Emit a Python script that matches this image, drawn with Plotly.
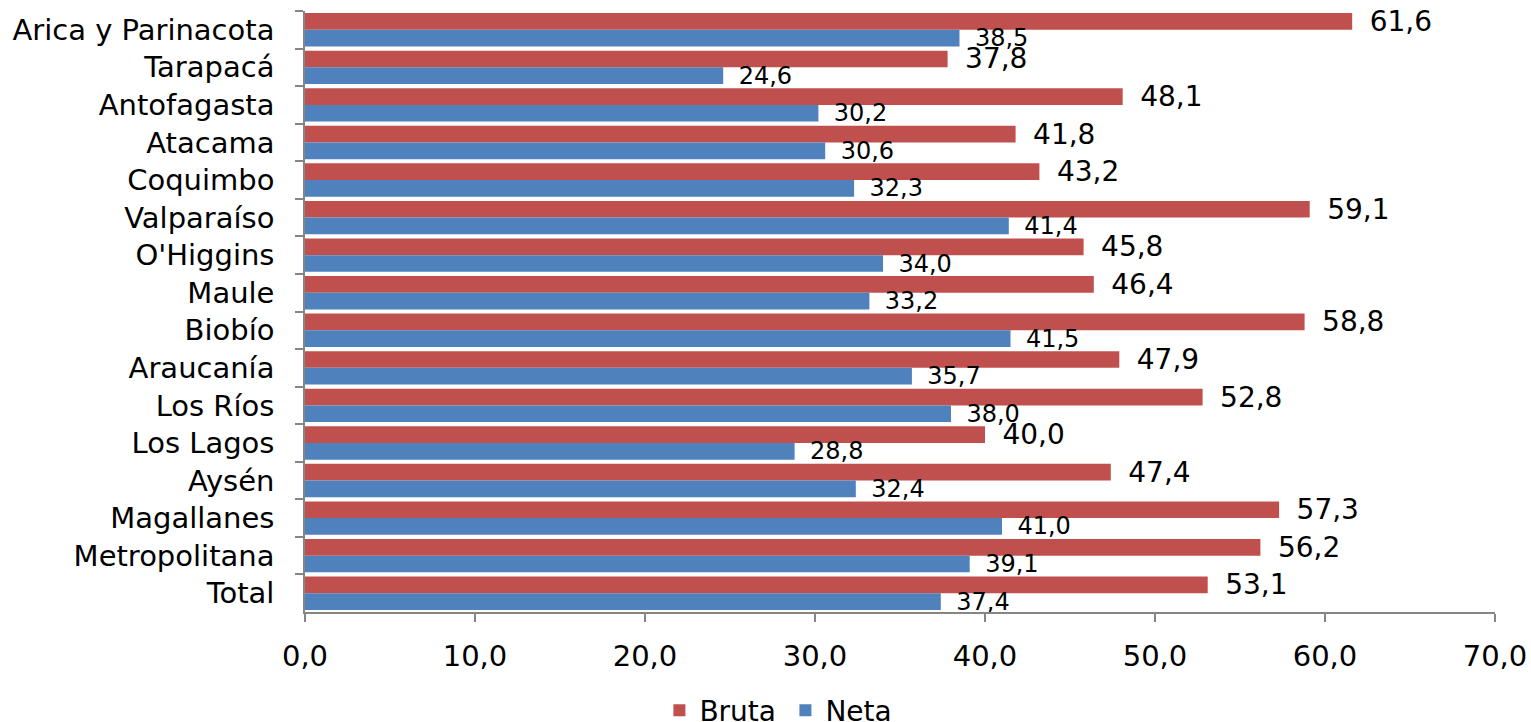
import plotly.graph_objects as go

categories = ["Arica y Parinacota", "Tarapacá", "Antofagasta", "Atacama", "Coquimbo",
              "Valparaíso", "O'Higgins", "Maule", "Biobío", "Araucanía", "Los Ríos",
              "Los Lagos", "Aysén", "Magallanes", "Metropolitana", "Total"]
bruta = [61.6, 37.8, 48.1, 41.8, 43.2, 59.1, 45.8, 46.4, 58.8, 47.9, 52.8, 40.0, 47.4, 57.3, 56.2, 53.1]
neta = [38.5, 24.6, 30.2, 30.6, 32.3, 41.4, 34.0, 33.2, 41.5, 35.7, 38.0, 28.8, 32.4, 41.0, 39.1, 37.4]

FONT = "Verdana, DejaVu Sans, sans-serif"
PAD = "\u00a0\u2009"

fig = go.Figure()
fig.add_trace(go.Bar(
    y=categories, x=bruta, name="Bruta", orientation="h",
    marker=dict(color="#C0504D", line=dict(width=0)),
    texttemplate=PAD + "%{x:.1f}", textposition="outside",
    outsidetextfont=dict(size=28, color="black", family=FONT),
    constraintext="none", cliponaxis=False,
))
fig.add_trace(go.Bar(
    y=categories, x=neta, name="Neta", orientation="h",
    marker=dict(color="#4F81BD", line=dict(width=0)),
    texttemplate=PAD + "%{x:.1f}", textposition="outside",
    outsidetextfont=dict(size=24, color="black", family=FONT),
    constraintext="none", cliponaxis=False,
))

fig.update_layout(
    width=1531, height=722,
    barmode="group", bargap=0.11, bargroupgap=0,
    separators=",.",
    paper_bgcolor="white", plot_bgcolor="white",
    font=dict(family=FONT, size=27, color="black"),
    margin=dict(l=305, r=36, t=11, b=110, autoexpand=False),
    legend=dict(orientation="h", xref="container", yref="container",
                x=0.513, xanchor="center", y=0.016, yanchor="middle",
                font=dict(size=28), itemwidth=30, traceorder="normal",
                entrywidth=81),
    xaxis=dict(range=[0, 70], dtick=10, tickformat=".1f", showgrid=False,
               showline=True, linecolor="#868686", linewidth=1.5,
               ticks="outside", ticklen=8, tickcolor="#868686", tickwidth=1.5,
               ticklabelstandoff=9, tickfont=dict(size=29), zeroline=False,
               automargin=False),
    yaxis=dict(autorange="reversed", showgrid=False, showline=True,
               linecolor="#868686", linewidth=1.5, ticks="outside", ticklen=8,
               tickcolor="#868686", tickwidth=1.5, tickson="boundaries",
               ticklabelstandoff=23, tickfont=dict(size=29), automargin=False),
)

fig.write_html("out.html", config={"displayModeBar": False},
               post_script="document.body.style.margin='0';")
